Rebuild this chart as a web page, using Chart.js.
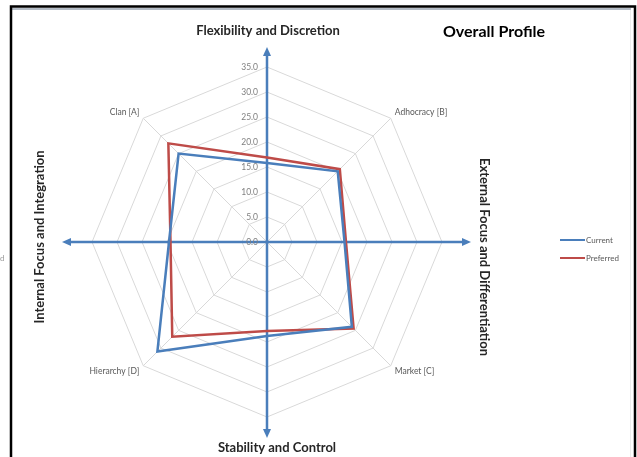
<!DOCTYPE html>
<html>
<head>
<meta charset="utf-8">
<script src="https://cdn.jsdelivr.net/npm/chart.js@4/dist/chart.umd.min.js"></script>
<style>
  html, body { margin: 0; padding: 0; background: #fff; }
  canvas { display: block; }
</style>
</head>
<body>
<canvas id="radar-chart" width="637" height="457"></canvas>
<script>
// spokes go clockwise from the top; only the diagonals carry a label
const categories = ["", "Adhocracy [B]", "", "Market [C]", "", "Hierarchy [D]", "", "Clan [A]"];
const currentVals = [15.8, 20.0, 15.5, 24.0, 18.8, 31.0, 19.6, 25.0];
const preferredVals = [16.9, 20.6, 15.8, 24.5, 17.8, 26.8, 19.3, 27.9];
const tickVals = [0, 5, 10, 15, 20, 25, 30, 35];

const FONT = "Lato, 'Open Sans', sans-serif";
const AXIS_BLUE = "#4a7ebb";

function arrowHead(ctx, x, y, dx, dy) {
    // tip at (x,y), pointing along (dx,dy)
    const len = 9, half = 4;
    ctx.beginPath();
    ctx.moveTo(x, y);
    ctx.lineTo(x - dx * len - dy * half, y - dy * len + dx * half);
    ctx.lineTo(x - dx * len + dy * half, y - dy * len - dx * half);
    ctx.closePath();
    ctx.fill();
}

const decorations = {
    id: 'decorations',
    beforeDatasetsDraw(chart) {
        const ctx = chart.ctx;
        const r = chart.scales.r;
        const cx = r.xCenter, cy = r.yCenter;
        ctx.save();
        // the big cross of arrows
        ctx.strokeStyle = AXIS_BLUE;
        ctx.fillStyle = AXIS_BLUE;
        ctx.lineWidth = 2.5;
        ctx.beginPath();
        ctx.moveTo(cx, 55); ctx.lineTo(cx, 430);
        ctx.moveTo(70, cy); ctx.lineTo(463, cy);
        ctx.stroke();
        arrowHead(ctx, cx, 47, 0, -1);
        arrowHead(ctx, cx, 438, 0, 1);
        arrowHead(ctx, 62, cy, -1, 0);
        arrowHead(ctx, 471, cy, 1, 0);
        ctx.restore();
    },
    afterDraw(chart) {
        const ctx = chart.ctx;
        const r = chart.scales.r;
        const cx = r.xCenter, cy = r.yCenter;
        ctx.save();

        // tick labels, left of the vertical axis
        ctx.fillStyle = "#7f7f7f";
        ctx.font = "8.5px " + FONT;
        ctx.textAlign = "right";
        ctx.textBaseline = "middle";
        tickVals.forEach(v => {
            const y = cy - r.getDistanceFromCenterForValue(v);
            ctx.fillText(v.toFixed(1), cx - 9, y);
        });

        // category labels just outside the outer ring
        ctx.fillStyle = "#595959";
        ctx.font = "8.5px " + FONT;
        categories.forEach((lab, i) => {
            if (!lab) return;
            const p = r.getPointPositionForValue(i, 35);
            const dx = p.x - cx, dy = p.y - cy;
            ctx.textAlign = dx < 0 ? "right" : "left";
            ctx.textBaseline = "middle";
            ctx.fillText(lab, p.x + (dx < 0 ? -4 : 4), p.y + (dy < 0 ? -6 : 6));
        });

        // axis captions
        ctx.fillStyle = "#262626";
        ctx.font = "bold 13px " + FONT;
        ctx.textAlign = "center";
        ctx.textBaseline = "middle";
        ctx.fillText("Flexibility and Discretion", 268, 31);
        ctx.fillText("Stability and Control", 277, 448);
        ctx.save();
        ctx.translate(40, 237);
        ctx.rotate(-Math.PI / 2);
        ctx.fillText("Internal Focus and Integration", 0, 0);
        ctx.restore();
        ctx.save();
        ctx.translate(484, 257);
        ctx.rotate(Math.PI / 2);
        ctx.fillText("External Focus and Differentiation", 0, 0);
        ctx.restore();

        ctx.fillStyle = "#000";
        ctx.font = "bold 16px " + FONT;
        ctx.fillText("Overall Profile", 494, 32);

        // legend
        ctx.font = "8px " + FONT;
        ctx.textAlign = "left";
        chart.data.datasets.forEach((ds, i) => {
            const y = 240 + i * 18;
            ctx.strokeStyle = ds.borderColor;
            ctx.lineWidth = 2;
            ctx.beginPath();
            ctx.moveTo(560, y); ctx.lineTo(585, y);
            ctx.stroke();
            ctx.fillStyle = "#595959";
            ctx.fillText(ds.label, 586, y);
        });

        // stray cut-off text at the far left
        ctx.fillStyle = "#9a9a9a";
        ctx.fillText("d", 0, 258);

        // frame
        ctx.strokeStyle = "#b4bcc6";
        ctx.lineWidth = 2;
        ctx.beginPath();
        ctx.moveTo(12, 9); ctx.lineTo(631, 9);
        ctx.stroke();
        ctx.strokeStyle = "#ececec";
        ctx.lineWidth = 1;
        ctx.beginPath();
        ctx.moveTo(630.5, 10); ctx.lineTo(630.5, 457);
        ctx.stroke();
        ctx.strokeStyle = "#000";
        ctx.lineWidth = 2.5;
        ctx.beginPath();
        ctx.moveTo(11, 457); ctx.lineTo(11, 6.5); ctx.lineTo(635, 6.5); ctx.lineTo(635, 457);
        ctx.stroke();
        ctx.restore();
    }
};

new Chart(document.getElementById("radar-chart"), {
    type: 'radar',
    data: {
        labels: categories,
        datasets: [{
            label: "Current",
            data: currentVals,
            borderColor: "#4a7ebb",
            borderWidth: 2.5,
            fill: false,
            pointRadius: 0
        }, {
            label: "Preferred",
            data: preferredVals,
            borderColor: "#be4b48",
            borderWidth: 2.5,
            fill: false,
            pointRadius: 0
        }]
    },
    options: {
        responsive: false,
        animation: false,
        layout: { padding: { left: 92, right: 195, top: 67, bottom: 40 } },
        elements: { line: { tension: 0 } },
        plugins: {
            legend: { display: false },
            tooltip: { enabled: false }
        },
        scales: {
            r: {
                min: 0,
                max: 35,
                ticks: { display: false, stepSize: 5 },
                pointLabels: { display: false },
                grid: { color: "#d9d9d9", lineWidth: 1 },
                angleLines: { color: "#d9d9d9", lineWidth: 1 }
            }
        }
    },
    plugins: [decorations]
});
</script>
</body>
</html>
